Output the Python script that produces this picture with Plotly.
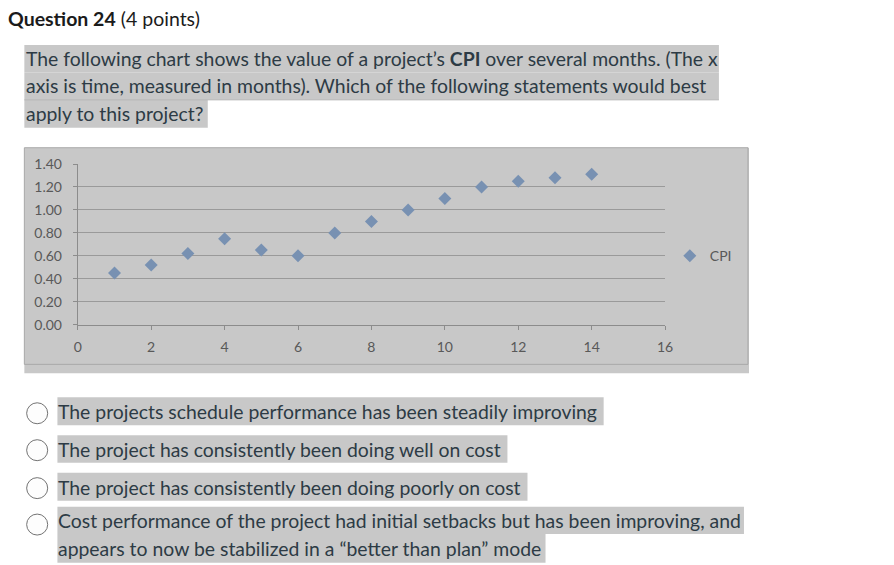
import plotly.graph_objects as go

# ---- data ----
months = [1, 2, 3, 4, 5, 6, 7, 8, 9, 10, 11, 12, 13, 14]
cpi = [0.45, 0.52, 0.62, 0.75, 0.65, 0.60, 0.80, 0.90, 1.00, 1.10, 1.20, 1.25, 1.28, 1.31]
x_ticks = [0, 2, 4, 6, 8, 10, 12, 14, 16]
y_ticks = [0.0, 0.2, 0.4, 0.6, 0.8, 1.0, 1.2, 1.4]
series_name = "CPI"

title_main = "Question 24"
title_points = " (4 points)"
question_lines = [
    "The following chart shows the value of a project\u2019s <b>CPI</b> over several months. (The x",
    "axis is time, measured in months). Which of the following statements would best",
    "apply to this project?",
]
option_lines = [
    "The projects schedule performance has been steadily improving",
    "The project has consistently been doing well on cost",
    "The project has consistently been doing poorly on cost",
    "Cost performance of the project had initial setbacks but has been improving, and",
    "appears to now be stabilized in a \u201cbetter than plan\u201d mode",
]

# ---- layout helpers (pixel -> paper), calibrated to the rendered drawing area ----
W, H = 894, 565
def px(x):
    return (x - 4.7) / 880
def py(y):
    return 1 - (y - 8) / 549

HL = "#c8c8c8"
TXT = "#2d3b45"
CHART_TXT = "#595959"
FONT = "Lato"
TSIZE = 19.4

fig = go.Figure()
fig.add_trace(go.Scatter(
    x=months, y=cpi, mode="markers", name=series_name,
    marker=dict(symbol="diamond", size=10, color="#7891b2"),
))

shapes = []
annotations = []

# question highlight rows
q_rows = [(25, 718, 44, 71.5), (25, 718, 71.5, 99), (25, 208, 99, 127)]
for (x0, x1, y0, y1) in q_rows:
    shapes.append(dict(type="rect", xref="paper", yref="paper", layer="below",
                       x0=px(x0), x1=px(x1), y0=py(y1), y1=py(y0),
                       fillcolor=HL, line=dict(width=0)))
shapes.append(dict(type="line", xref="paper", yref="paper", layer="below",
                   x0=px(25), x1=px(718), y0=py(99), y1=py(99),
                   line=dict(color="#b4b4b4", width=1)))

# chart background (image + highlight band)
shapes.append(dict(type="rect", xref="paper", yref="paper", layer="below",
                   x0=px(25), x1=px(748), y0=py(373), y1=py(147),
                   fillcolor=HL, line=dict(width=0)))
shapes.append(dict(type="rect", xref="paper", yref="paper", layer="below",
                   x0=px(25), x1=px(747), y0=py(364), y1=py(147),
                   fillcolor="rgba(0,0,0,0)", line=dict(color="#a8a8a8", width=1)))

# option highlight rows
o_rows = [(58, 603, 397, 425), (58, 507, 435, 462.7), (58, 527, 472.7, 500.7),
          (58, 743, 506.7, 534), (58, 545, 534, 562.7)]
for (x0, x1, y0, y1) in o_rows:
    shapes.append(dict(type="rect", xref="paper", yref="paper", layer="below",
                       x0=px(x0), x1=px(x1), y0=py(y1), y1=py(y0),
                       fillcolor=HL, line=dict(width=0)))

# radio circles
for cy in [413, 450, 488, 524.5]:
    r = 10.5
    shapes.append(dict(type="circle", xref="paper", yref="paper",
                       x0=px(37.8 - r), x1=px(37.8 + r), y0=py(cy + r), y1=py(cy - r),
                       fillcolor="#fdfdfd", line=dict(color="#737373", width=1)))

# title
annotations.append(dict(xref="paper", yref="paper", x=px(6.5), y=py(17.5),
                        xanchor="left", yanchor="middle", showarrow=False,
                        text=f"<b>{title_main}</b>{title_points}",
                        font=dict(family=FONT, size=19.5, color="#1b1b1b")))
for t, cy in zip(question_lines, [57.5, 85, 112.5]):
    annotations.append(dict(xref="paper", yref="paper", x=px(24.5), y=py(cy),
                            xanchor="left", yanchor="middle", showarrow=False,
                            text=t, font=dict(family=FONT, size=TSIZE, color=TXT)))
for t, cy in zip(option_lines, [411, 449, 487, 520.5, 548.5]):
    annotations.append(dict(xref="paper", yref="paper", x=px(57), y=py(cy),
                            xanchor="left", yanchor="middle", showarrow=False,
                            text=t, font=dict(family=FONT, size=TSIZE, color=TXT)))

fig.update_layout(
    width=W, height=H,
    margin=dict(l=0, r=0, t=0, b=0),
    paper_bgcolor="white",
    plot_bgcolor="rgba(0,0,0,0)",
    shapes=shapes,
    annotations=annotations,
    showlegend=True,
    legend=dict(x=px(669), y=py(255.5), xanchor="left", yanchor="middle",
                bgcolor="rgba(0,0,0,0)", font=dict(family=FONT, size=14, color=CHART_TXT)),
    xaxis=dict(domain=[px(78.3), px(664.3)], range=[0, 16], tickvals=x_ticks,
               showgrid=False, zeroline=False, showline=True, linecolor="#8c8c8c",
               ticks="outside", ticklen=4, tickcolor="#8c8c8c", ticklabelstandoff=5,
               tickfont=dict(family=FONT, size=14, color=CHART_TXT)),
    yaxis=dict(domain=[py(324.3), py(163.3)], range=[0, 1.4], tickvals=y_ticks,
               tickformat=".2f", showgrid=True, gridcolor="#9a9a9a", gridwidth=1,
               zeroline=False, showline=True, linecolor="#8c8c8c",
               ticks="outside", ticklen=4, tickcolor="#8c8c8c", ticklabelstandoff=8,
               tickfont=dict(family=FONT, size=14, color=CHART_TXT)),
)

fig.write_html(
    "out.html",
    config={"displayModeBar": False},
    post_script="document.body.style.margin='0';document.body.style.padding='0';"
                "document.documentElement.style.overflow='hidden';",
)
